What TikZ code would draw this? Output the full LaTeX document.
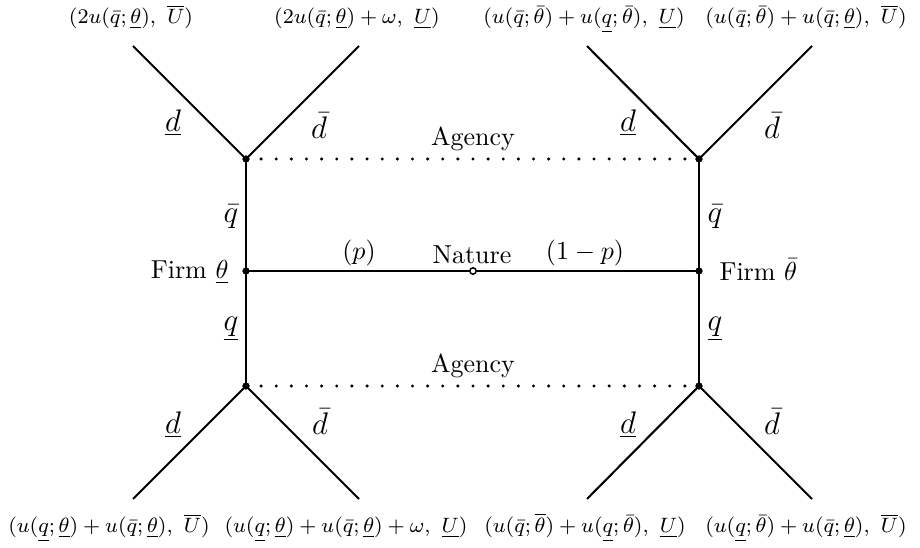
\documentclass[tikz,border=0pt]{standalone}
\begin{document}
\begin{tikzpicture}[x=0.3846pt,y=-0.3846pt,
  edge/.style={line width=0.8pt},
  info/.style={line width=1.3pt,line cap=round,dash pattern=on 0pt off 5.82pt},
  dotnode/.style={circle,fill=black,inner sep=0pt,minimum size=2.7pt},
  opennode/.style={circle,draw=black,fill=white,line width=0.5pt,inner sep=0pt,minimum size=2.4pt},
  pay/.style={font=\fontsize{8.5}{10}\selectfont,inner sep=0pt,anchor=base},
  lab/.style={inner sep=0pt},
  elab/.style={inner sep=0pt,font=\large}]
\useasboundingbox (0,0) rectangle (920,548);
% decision nodes
\node[opennode] (nature) at (473,271) {};
\node[dotnode] (fL) at (246,271) {};
\node[dotnode] (fR) at (699,271) {};
\node[dotnode] (aLt) at (246,159) {};
\node[dotnode] (aRt) at (699,159) {};
\node[dotnode] (aLb) at (246,386) {};
\node[dotnode] (aRb) at (699,386) {};
% terminal ends
\coordinate (tl1) at (133,46);
\coordinate (tl2) at (359,46);
\coordinate (tr1) at (587,46);
\coordinate (tr2) at (812,46);
\coordinate (bl1) at (133,499);
\coordinate (bl2) at (359,499);
\coordinate (br1) at (587,499);
\coordinate (br2) at (812,499);
% edges
\draw[edge] (fL.center) -- (nature.center);
\draw[edge] (nature.center) -- (fR.center);
\draw[edge] (fL.center) -- (aLt.center);
\draw[edge] (fL.center) -- (aLb.center);
\draw[edge] (fR.center) -- (aRt.center);
\draw[edge] (fR.center) -- (aRb.center);
\draw[edge] (aLt.center) -- (tl1);
\draw[edge] (aLt.center) -- (tl2);
\draw[edge] (aRt.center) -- (tr1);
\draw[edge] (aRt.center) -- (tr2);
\draw[edge] (aLb.center) -- (bl1);
\draw[edge] (aLb.center) -- (bl2);
\draw[edge] (aRb.center) -- (br1);
\draw[edge] (aRb.center) -- (br2);
\draw[info] (aLt.center) -- (aRt.center);
\draw[info] (aLb.center) -- (aRb.center);
% redraw nodes on top
\node[opennode] at (nature) {};
\node[dotnode] at (fL) {};
\node[dotnode] at (fR) {};
\node[dotnode] at (aLt) {};
\node[dotnode] at (aRt) {};
\node[dotnode] at (aLb) {};
\node[dotnode] at (aRb) {};
% labels
\node[lab] (lnat) at (472,255) {Nature};
\node[lab] (lp) at (359,253) {$(p)$};
\node[lab] (l1p) at (585,253) {$(1-p)$};
\node[lab] (agt) at (473,139) {Agency};
\node[lab] (agb) at (473,366) {Agency};
\node[lab,anchor=east] (firmL) at (229,272) {Firm $\underline{\theta}$};
\node[lab,anchor=west] (firmR) at (719,270) {Firm $\bar{\theta}$};
\node[elab] (qbL) at (231,217) {$\bar{q}$};
\node[elab] (qbR) at (715,217) {$\bar{q}$};
\node[elab] (quL) at (231,329) {$\underline{q}$};
\node[elab] (quR) at (715,329) {$\underline{q}$};
\node[elab] (d1) at (173,123) {$\underline{d}$};
\node[elab] (d2) at (319,126) {$\bar{d}$};
\node[elab] (d3) at (628,123) {$\underline{d}$};
\node[elab] (d4) at (772,126) {$\bar{d}$};
\node[elab] (d5) at (173,425) {$\underline{d}$};
\node[elab] (d6) at (320,422) {$\bar{d}$};
\node[elab] (d7) at (628,425) {$\underline{d}$};
\node[elab] (d8) at (772,422) {$\bar{d}$};
% payoffs
\node[pay] (p1) at (131,24) {$(2u(\bar{q};\underline{\theta}),\ \overline{U})$};
\node[pay] (p2) at (357,24) {$(2u(\bar{q};\underline{\theta})+\omega,\ \underline{U})$};
\node[pay] (p3) at (584,24) {$(u(\bar{q};\bar{\theta})+u(\underline{q};\bar{\theta}),\ \underline{U})$};
\node[pay] (p4) at (806,24) {$(u(\bar{q};\bar{\theta})+u(\bar{q};\underline{\theta}),\ \overline{U})$};
\node[pay] (p5) at (109,533) {$(u(\underline{q};\underline{\theta})+u(\bar{q};\underline{\theta}),\ \overline{U})$};
\node[pay] (p6) at (346,533) {$(u(\underline{q};\underline{\theta})+u(\bar{q};\underline{\theta})+\omega,\ \underline{U})$};
\node[pay] (p7) at (585,533) {$(u(\bar{q};\overline{\theta})+u(\underline{q};\bar{\theta}),\ \underline{U})$};
\node[pay] (p8) at (806,533) {$(u(\underline{q};\bar{\theta})+u(\bar{q};\underline{\theta}),\ \overline{U})$};
\end{tikzpicture}
\end{document}
